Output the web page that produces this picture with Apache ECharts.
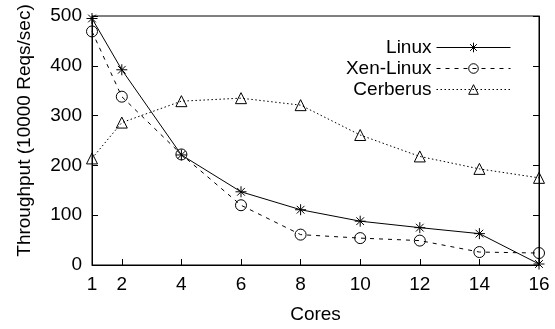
<!DOCTYPE html>
<html>
<head>
<meta charset="utf-8">
<script src="https://cdn.jsdelivr.net/npm/echarts@6/dist/echarts.min.js"></script>
<style>
  html, body { margin: 0; padding: 0; background: #fff; }
  #chart { width: 555px; height: 329px; }
</style>
</head>
<body>
<div id="chart"></div>
<script>
  // cores on x axis
  var cores = [1, 2, 4, 6, 8, 10, 12, 14, 16]
  var linux = [495, 392, 221, 147, 111, 88, 75, 63, 2]
  var xenLinux = [469, 338, 222, 120, 61, 54, 49, 26, 24]
  var cerberus = [214, 286, 329, 335, 321, 261, 218, 193, 175]
  var xTicks = [1, 2, 4, 6, 8, 10, 12, 14, 16]

  function pairs(ys){
    return cores.map(function(c, i){ return [c, ys[i]] })
  }

  // asterisk = + and x
  var asterisk = 'path://M5,0L5,10M0,5L10,5M1.5,1.5L8.5,8.5M8.5,1.5L1.5,8.5'
  var font = 'Liberation Sans, Arial, Helvetica, sans-serif'
  var fs = 19

  var myChart = echarts.init(document.getElementById('chart'))
  var option = {
    animation: false,
    backgroundColor: '#fff',
    textStyle: { fontFamily: font, color: '#000' },
    grid: {
      left: 92, right: 16, top: 16, bottom: 61,
      show: true, borderColor: '#000', borderWidth: 1
    },
    legend: {
      right: 39, top: 33,
      orient: 'vertical',
      align: 'right',
      itemWidth: 74, itemHeight: 12, itemGap: 2,
      itemStyle: { color: 'none', borderColor: '#000', borderWidth: 1 },
      lineStyle: { color: '#000', width: 1 },
      textStyle: { fontSize: fs, fontFamily: font, color: '#000' },
      data: ['Linux', 'Xen-Linux', 'Cerberus']
    },
    xAxis: {
      type: 'value',
      min: 1, max: 16,
      name: 'Cores',
      nameLocation: 'middle',
      nameGap: 40,
      nameTextStyle: { fontSize: fs, fontFamily: font, color: '#000' },
      axisLine: { show: true, lineStyle: { color: '#000', width: 1 } },
      axisTick: { show: true, inside: true, length: 6, customValues: xTicks, lineStyle: { color: '#000' } },
      axisLabel: { customValues: xTicks, fontSize: fs, fontFamily: font, color: '#000', margin: 10 },
      splitLine: { show: false }
    },
    yAxis: [
      {
        type: 'value',
        min: 0, max: 500, interval: 100,
        name: 'Throughput (10000 Reqs/sec)',
        nameLocation: 'middle',
        nameGap: 58,
        nameTextStyle: { fontSize: fs, fontFamily: font, color: '#000', padding: [0, 0, 0, 20] },
        axisLine: { show: true, lineStyle: { color: '#000', width: 1 } },
        axisTick: { show: true, inside: true, length: 6, lineStyle: { color: '#000' } },
        axisLabel: { fontSize: fs, fontFamily: font, color: '#000', margin: 10 },
        splitLine: { show: false }
      },
      {
        type: 'value',
        position: 'right',
        min: 0, max: 500, interval: 100,
        axisLine: { show: true, lineStyle: { color: '#000', width: 1 } },
        axisTick: { show: true, inside: true, length: 6, lineStyle: { color: '#000' } },
        axisLabel: { show: false },
        splitLine: { show: false }
      }
    ],
    series: [
      {
        name: 'Linux',
        type: 'line',
        data: pairs(linux),
        symbol: asterisk,
        symbolSize: 11,
        itemStyle: { color: 'none', borderColor: '#000', borderWidth: 1 },
        lineStyle: { color: '#000', width: 1, type: 'solid' },
        z: 3
      },
      {
        name: 'Xen-Linux',
        type: 'line',
        data: pairs(xenLinux),
        symbol: 'circle',
        symbolSize: 11,
        itemStyle: { color: 'none', borderColor: '#000', borderWidth: 1 },
        lineStyle: { color: '#000', width: 1, type: [4, 5] },
        z: 3
      },
      {
        name: 'Cerberus',
        type: 'line',
        data: pairs(cerberus),
        symbol: 'triangle',
        symbolSize: 11,
        itemStyle: { color: 'none', borderColor: '#000', borderWidth: 1 },
        lineStyle: { color: '#000', width: 1, type: [1.5, 2.5] },
        z: 3
      }
    ]
  }
  myChart.setOption(option)
</script>
</body>
</html>
